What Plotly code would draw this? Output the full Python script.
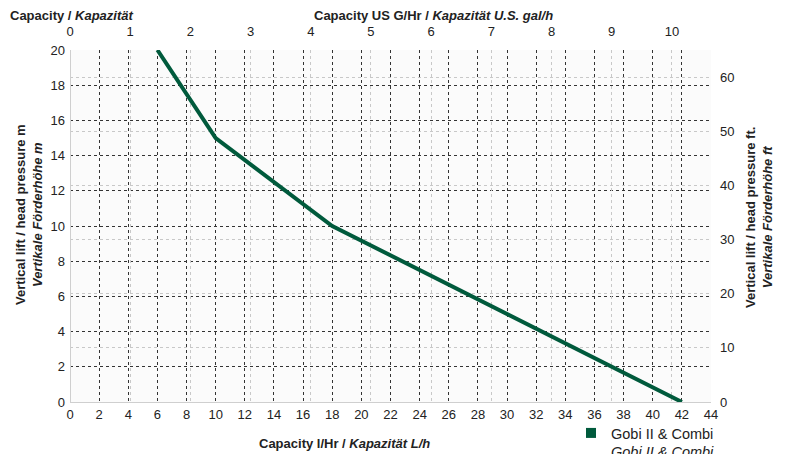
import plotly.graph_objects as go

# capacity (l/h) vs vertical lift (m)
capacity_lh = [6, 10, 18, 42]
lift_m = [20, 15, 10, 0]
series_name = "Gobi II & Combi"
line_color = "#005a3c"

x_ticks = list(range(0, 45, 2))
y_ticks = list(range(0, 21, 2))
gal_ticks = list(range(0, 11))
ft_ticks = list(range(0, 61, 10))

# plot area in window pixels (reference): x 70..711, y 50..402
# the page body adds an 8px margin, so the figure itself is shifted by that
OFF = 8
W, H = 790, 454
L, R, T, B = 70, 711, 50, 402


def px(x):
    return (x - L) / (R - L)


def py(y):
    return (B - y) / (B - T)


fig = go.Figure()

fig.add_trace(go.Scatter(
    x=capacity_lh, y=lift_m,
    mode="lines",
    line=dict(color=line_color, width=4),
    showlegend=False,
    hoverinfo="skip",
))

# legend entry drawn as a square
fig.add_trace(go.Scatter(
    x=[None], y=[None],
    mode="markers",
    marker=dict(symbol="square", size=10, color=line_color),
    name=f"{series_name}<br><i>{series_name}</i>",
))

# helper trace so the secondary axes exist
fig.add_trace(go.Scatter(
    x=[None], y=[None], xaxis="x2", yaxis="y2",
    showlegend=False, hoverinfo="skip",
))

dark_grid = dict(showgrid=True, gridcolor="#333333", gridwidth=1, griddash="dot")
light_grid = dict(showgrid=True, gridcolor="#c8c8c8", gridwidth=1, griddash="dot")
tick_font = dict(family="Liberation Sans, Arial, sans-serif", size=13, color="#222")

fig.update_layout(
    width=W, height=H,
    margin=dict(l=L - OFF, r=W - (R - OFF), t=T - OFF, b=H - (B - OFF), autoexpand=False),
    paper_bgcolor="white",
    plot_bgcolor="#fbfbfb",
    font=dict(family="Liberation Sans, Arial, sans-serif", size=12, color="#222"),
    xaxis=dict(range=[0, 44], tickvals=x_ticks, ticks="", showline=False,
               zeroline=True, zerolinecolor="#cfcfcf", zerolinewidth=1,
               ticklabelstandoff=3, tickfont=tick_font, **dark_grid),
    yaxis=dict(range=[0, 20], tickvals=y_ticks, ticks="", showline=False,
               zeroline=True, zerolinecolor="#cfcfcf", zerolinewidth=1,
               ticklabelstandoff=4, tickfont=tick_font, **dark_grid),
    xaxis2=dict(range=[0, 10.65], tickvals=gal_ticks, overlaying="x", side="top",
                anchor="y", ticks="", zeroline=False, tickfont=tick_font,
                ticklabelstandoff=10, **light_grid),
    yaxis2=dict(range=[0, 65], tickvals=ft_ticks, overlaying="y", side="right",
                anchor="x", ticks="", zeroline=False, tickfont=tick_font,
                ticklabelstandoff=8, **light_grid),
    legend=dict(xref="container", yref="container",
                x=(571 - OFF) / W, y=1 - (417 - OFF) / H,
                xanchor="left", yanchor="top", valign="top",
                font=dict(size=14.5, color="#222"), bgcolor="rgba(0,0,0,0)",
                itemwidth=30, tracegroupgap=0),
)

title_font = dict(family="Liberation Sans, Arial, sans-serif", size=13, color="#222")
annotations = [
    dict(text="<b>Capacity / <i>Kapazität</i></b>", x=px(8), y=py(15),
         xanchor="left", yanchor="middle"),
    dict(text="<b>Capacity US G/Hr / <i>Kapazität U.S. gal/h</i></b>", x=px(433), y=py(15),
         xanchor="center", yanchor="middle"),
    dict(text="<b>Capacity l/Hr / <i>Kapazität L/h</i></b>", x=px(344), y=py(443),
         xanchor="center", yanchor="middle"),
    dict(text="<b>Vertical lift / head pressure m<br><i>Vertikale Förderhöhe m</i></b>",
         x=px(29), y=py(215), xanchor="center", yanchor="middle", textangle=-90),
    dict(text="<b>Vertical lift / head pressure ft.<br><i>Vertikale Förderhöhe ft</i></b>",
         x=px(759), y=py(217), xanchor="center", yanchor="middle", textangle=-90),
]
for a in annotations:
    fig.add_annotation(xref="paper", yref="paper", showarrow=False, font=title_font, **a)

fig.write_html("out.html")
